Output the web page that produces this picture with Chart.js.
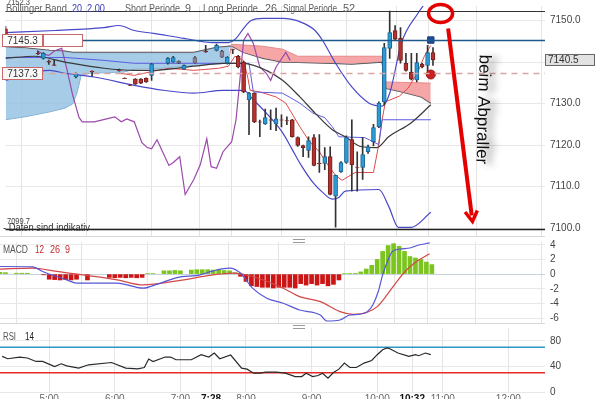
<!DOCTYPE html>
<html>
<head>
<meta charset="UTF-8" />
<title>Intraday Chart</title>
<script src="https://cdn.jsdelivr.net/npm/chart.js"></script>
<style>
  html, body { margin: 0; padding: 0; background: #fff; }
  #wrap { position: relative; width: 600px; height: 399px; overflow: hidden; }
  #wrap canvas { position: absolute; left: 0; }
  .sep { position: absolute; left: 0; width: 545px; height: 0; border-top: 1px solid #d8d8d8; }
  .grip { position: absolute; left: 293px; width: 12px; height: 2px; border-top: 1px solid #9a9a9a; border-bottom: 1px solid #9a9a9a; }
</style>
</head>
<body>
<div id="wrap">
  <canvas id="mainChart" width="600" height="242" style="top:0"></canvas>
  <canvas id="macdChart" width="600" height="93" style="top:236px"></canvas>
  <canvas id="rsiChart" width="600" height="77" style="top:322px"></canvas>
  <div class="sep" style="top:236px"></div>
  <div class="grip" style="top:239px"></div>
  <div class="sep" style="top:323px"></div>
  <div class="grip" style="top:325px"></div>
</div>

<script>
// Zeiten in Minuten seit Mitternacht
const xMin = 255, xMax = 753.5;
const timeTicks = [300, 360, 420, 448, 480, 540, 600, 632, 660, 720];
const boldTimes = [448, 632];
const priceTicks = [7100, 7110, 7120, 7130, 7140, 7150];
const macdTicks = [-6, -4, -2, 0, 2, 4];
const rsiTicks = [0, 40, 80];

// 5-Minuten-Kerzen
const candleTimes = [255, 285, 290, 295, 300, 320, 335, 360, 365, 370, 375, 380, 385, 390, 405, 410, 415, 420, 430, 440,
  450, 455, 460, 465, 470, 475, 480, 485, 490, 495, 500, 505, 510, 515, 520, 525, 530, 535, 540, 545,
  550, 555, 560, 565, 570, 575, 580, 585, 590, 595, 600, 605, 610, 615, 620, 625, 630, 635, 640, 645, 650];
const candleOpen = [7148.0, 7142.1, 7140.9, 7140.2, 7139.3, 7136.4, 7137.8, 7138.0, 7136.1, 7134.5, 7135.9, 7135.9, 7136.1, 7136.8, 7139.7, 7140.0, 7140.2, 7138.3, 7141.1, 7142.6,
  7142.8, 7142.6, 7139.7, 7143.0, 7141.4, 7140.0, 7130.9, 7132.5, 7125.6, 7125.1, 7126.1, 7125.1, 7126.1, 7125.9, 7126.1, 7121.8, 7119.9, 7118.7, 7121.8, 7115.6,
  7115.6, 7117.2, 7107.7, 7113.6, 7115.8, 7121.3, 7114.7, 7114.6, 7118.4, 7120.8, 7124.4, 7130.4, 7143.3, 7147.6, 7145.7, 7139.7, 7137.6, 7135.7, 7139.5, 7139.2, 7142.3];
const candleHigh = [7148.6, 7142.6, 7142.3, 7140.5, 7140.4, 7137.4, 7137.9, 7138.3, 7136.2, 7134.6, 7136.0, 7136.0, 7136.2, 7139.7, 7141.1, 7141.4, 7140.3, 7139.3, 7141.3, 7144.0,
  7144.3, 7142.8, 7141.3, 7143.1, 7141.6, 7140.2, 7132.7, 7132.6, 7126.0, 7128.7, 7128.5, 7128.9, 7127.3, 7126.8, 7126.2, 7122.0, 7120.0, 7122.0, 7122.5, 7122.5,
  7119.4, 7119.6, 7112.8, 7116.0, 7122.2, 7126.1, 7118.4, 7121.8, 7120.0, 7125.0, 7130.4, 7144.5, 7152.3, 7148.8, 7148.3, 7142.1, 7142.1, 7142.1, 7139.7, 7144.0, 7143.5];
const candleLow = [7146.2, 7141.8, 7140.7, 7139.4, 7139.2, 7136.2, 7136.6, 7137.8, 7136.0, 7134.3, 7134.6, 7134.8, 7135.1, 7135.6, 7139.5, 7139.9, 7139.6, 7138.2, 7139.7, 7142.3,
  7142.7, 7141.1, 7139.5, 7142.0, 7138.6, 7132.6, 7122.5, 7125.4, 7122.0, 7125.0, 7123.7, 7123.5, 7124.4, 7124.9, 7121.9, 7119.7, 7117.2, 7117.0, 7115.0, 7113.4,
  7114.1, 7108.0, 7100.2, 7113.4, 7115.6, 7108.9, 7108.9, 7111.7, 7118.0, 7119.8, 7124.2, 7129.7, 7140.9, 7145.3, 7139.7, 7137.8, 7135.7, 7135.2, 7138.6, 7137.6, 7139.2];
const candleClose = [7146.4, 7142.0, 7142.1, 7140.0, 7139.2, 7137.2, 7137.7, 7137.9, 7136.0, 7134.4, 7134.7, 7134.9, 7135.2, 7139.5, 7140.9, 7141.1, 7139.7, 7139.2, 7139.8, 7142.5,
  7144.0, 7141.2, 7141.2, 7142.9, 7138.8, 7132.8, 7132.5, 7125.6, 7125.5, 7126.6, 7126.0, 7126.3, 7126.0, 7125.8, 7122.0, 7119.9, 7119.4, 7121.1, 7115.1, 7115.5,
  7117.2, 7108.1, 7112.7, 7115.8, 7121.8, 7115.3, 7114.6, 7117.7, 7119.6, 7124.2, 7130.1, 7143.5, 7147.1, 7145.5, 7140.4, 7138.0, 7135.9, 7139.9, 7138.8, 7142.3, 7140.5];
const grayCandles = [415, 430, 455];

// Bollinger Band 20 / 2.00
const bbUpperT = [255, 301, 346, 360, 374, 392, 420, 447, 461, 468, 475, 482, 493, 511, 529, 541, 548, 560, 575, 591, 603, 610, 621, 636, 643];
const bbUpperV = [7147.1, 7147.6, 7148.3, 7148.8, 7147.6, 7146.9, 7145.7, 7144.7, 7144.7, 7145.7, 7148.1, 7150.0, 7150.5, 7150.5, 7149.5, 7147.6, 7145.2, 7139.7, 7134.0, 7130.1, 7129.4, 7132.5, 7144.7, 7151.7, 7154.3];
const bbLowerT = [255, 296, 310, 337, 374, 401, 429, 456, 475, 484, 496, 511, 520, 529, 539, 548, 557, 563, 569, 600, 609, 618, 630, 648];
const bbLowerV = [7135.6, 7138.0, 7137.3, 7136.4, 7134.4, 7133.2, 7132.5, 7133.2, 7133.2, 7130.9, 7127.7, 7123.0, 7118.9, 7114.8, 7111.0, 7108.6, 7107.0, 7107.4, 7108.9, 7109.3, 7105.3, 7100.2, 7100.2, 7103.8];
const bbMidT = [255, 282, 310, 346, 374, 392, 429, 456, 475, 496, 511, 527, 541, 557, 569, 584, 598, 609, 630, 648];
const bbMidV = [7140.9, 7141.4, 7140.0, 7138.5, 7138.0, 7138.0, 7139.0, 7139.7, 7139.7, 7138.0, 7135.6, 7131.6, 7127.7, 7123.7, 7122.0, 7119.6, 7119.4, 7122.0, 7125.4, 7129.7];

// Ichimoku 9 / 26 / 52
const kijunT = [255, 310, 346, 374, 429, 480, 484, 511, 527, 539, 550, 557, 563, 587, 600, 603, 648];
const kijunV = [7141.1, 7141.1, 7140.4, 7139.7, 7139.7, 7139.7, 7132.8, 7132.5, 7130.1, 7127.7, 7126.6, 7124.4, 7122.0, 7121.8, 7120.1, 7126.1, 7126.1];
const tenkanT = [360, 374, 392, 406, 429, 452, 461, 467, 475, 479, 481, 490, 505, 514, 527, 536, 545, 554, 560, 566, 578, 595, 599, 603, 606, 619, 627, 636, 642, 648];
const tenkanV = [7137.3, 7136.8, 7137.8, 7138.5, 7138.0, 7138.5, 7139.0, 7141.4, 7140.4, 7136.1, 7133.2, 7132.8, 7131.6, 7130.1, 7124.4, 7120.8, 7118.4, 7114.8, 7112.7, 7111.5, 7113.4, 7113.4, 7118.9, 7126.1, 7130.4, 7131.8, 7133.7, 7137.6, 7141.4, 7144.0];
const chikouT = [284, 290, 295, 301, 307, 312, 317, 323, 326, 337, 356, 362, 367, 374, 381, 386, 390, 395, 406, 410, 416, 421, 429, 435, 441, 445, 450, 456, 464, 468, 472, 475, 479, 484, 490, 496, 500, 505, 514, 518];
const chikouV = [7142.8, 7141.9, 7141.6, 7142.8, 7143.3, 7138.0, 7132.1, 7126.6, 7125.6, 7125.6, 7126.8, 7125.6, 7126.3, 7125.6, 7120.6, 7119.4, 7119.1, 7121.3, 7115.1, 7115.8, 7117.2, 7108.1, 7111.7, 7115.3, 7121.5, 7114.8, 7114.4, 7118.4, 7120.8, 7126.1, 7136.8, 7145.2, 7146.9, 7144.5, 7138.8, 7137.3, 7135.6, 7138.8, 7142.3, 7140.4];
const cloudT = [255, 273, 296, 310, 317, 321, 325, 333, 346, 365, 374, 392, 401, 429, 450, 458, 462, 464, 475, 493, 511, 525, 557, 575, 603, 606, 621, 639, 648];
const spanAV = [7126.1, 7126.8, 7128.0, 7128.9, 7129.9, 7132.5, 7136.8, 7137.3, 7137.4, 7137.6, 7138.3, 7138.4, 7138.5, 7139.2, 7139.5, 7139.7, 7141.5, 7144.3, 7144.1, 7143.8, 7143.1, 7141.4, 7141.4, 7141.4, 7141.4, 7135.2, 7135.1, 7135.0, 7134.9];
const spanBV = [7143.6, 7143.4, 7142.8, 7142.6, 7142.3, 7142.3, 7142.3, 7142.3, 7142.3, 7142.3, 7142.3, 7142.3, 7142.3, 7142.3, 7143.5, 7143.7, 7143.8, 7143.8, 7142.3, 7140.9, 7140.0, 7139.9, 7139.7, 7139.5, 7140.0, 7133.7, 7132.8, 7131.6, 7130.1];

// Markierungen und Linien
const markerT = [648, 648];
const markerV = [7145.3, 7137.0];
const dayHigh = 7152.3, dayLow = 7099.7, lineBlue = 7145.3, lineDashed = 7137.3, lastPrice = 7140.5;

// MACD 12 26 9
const histT = [255, 260, 270, 275, 280, 295, 300, 305, 310, 315, 320, 325, 335, 355, 360, 365, 370, 375, 380, 385, 390, 395,
  405, 410, 415, 420, 430, 435, 440, 445, 450, 455, 460, 465, 470,
  475, 480, 485, 490, 495, 500, 505, 510, 515, 520, 525, 530, 535, 540, 545, 550, 555, 560, 565,
  570, 575, 580, 585, 590, 595, 600, 605, 610, 615, 620, 625, 630, 635, 640, 645, 650];
const histV = [0.25, 0.2, 0.12, 0.12, 0.12, -0.1, -0.7, -0.75, -0.8, -0.75, -0.8, -0.7, -0.8, -0.45, -0.5, -0.45, -0.5, -0.45, -0.5, -0.45, 0.05, 0.05,
  0.45, 0.45, 0.5, 0.45, 0.55, 0.6, 0.6, 0.6, 0.55, 0.6, 0.5, 0.45, 0.2,
  -0.3, -1.0, -1.6, -1.7, -1.8, -1.8, -1.9, -1.8, -1.8, -1.8, -1.9, -1.3, -1.5, -1.3, -1.5, -1.3, -1.6, -1.4, -0.8,
  0.05, 0.05, 0.1, 0.3, 0.7, 1.2, 2.0, 3.1, 3.9, 4.15, 3.8, 3.1, 2.4, 2.2, 2.0, 1.65, 1.3];
const macdT = [255, 285, 294, 316, 325, 362, 386, 399, 417, 438, 450, 465, 475, 486, 499, 514, 529, 548, 554, 566, 575, 584, 591, 596, 601, 605, 610, 614, 621, 630, 639, 648];
const macdV = [1.04, 1.0, 0.36, -0.78, -1.23, -1.23, -1.92, -1.37, -0.47, -0.1, 0.45, 0.82, 0.14, -1.92, -3.29, -3.97, -4.89, -5.58, -6.4, -6.26, -5.58, -5.48, -5.12, -4.21, -2.38, -0.1, 1.96, 3.1, 3.42, 3.56, 4.01, 4.25];
const signalT = [255, 285, 307, 362, 386, 417, 450, 468, 486, 514, 529, 548, 566, 578, 591, 600, 609, 618, 627, 636, 648];
const signalV = [0.68, 0.82, 0.36, -0.78, -1.47, -0.92, -0.1, 0.14, -0.33, -1.92, -3.07, -3.75, -5.12, -5.48, -5.21, -4.44, -2.84, -1.01, 0.59, 1.73, 2.78];

// RSI 14
const rsiT = [257, 262, 273, 280, 288, 294, 305, 311, 316, 327, 336, 357, 370, 381, 387, 391, 395, 406, 411, 416, 430, 439, 446, 451, 456, 466,
  476, 481, 487, 493, 498, 508, 516, 525, 531, 535, 541, 546, 550, 555, 560, 565, 570, 575, 581, 588, 595, 600, 605, 609, 612, 619, 629, 635, 638, 644, 649];
const rsiV = [55.6, 52, 54.6, 53.1, 47.7, 47.7, 39.8, 44.1, 40.9, 37.3, 42.5, 46.1, 37.3, 36.2, 38.3, 51.5, 47.7, 54.6, 54.6, 50.4, 50.4, 58.3, 54.6, 60.9, 52, 57.8,
  37.3, 35.7, 29.4, 29.4, 31.0, 31.0, 29.4, 24.1, 24.1, 29.4, 24.1, 25.7, 29.4, 21.6, 30.4, 35.7, 45.2, 38.3, 38.3, 45.2, 49.3, 58.3, 66.1, 68.8, 67.2, 60.9, 55.6, 58.3, 56.7, 60.9, 58.3];
const rsiLevels = [70, 30];
const rsiLevelColors = ['#2f95c4', '#e82a2a'];

Chart.defaults.font.family = "'Liberation Sans', Arial, sans-serif";
Chart.defaults.font.size = 10;
Chart.defaults.color = '#444';

const FONT = '"Liberation Sans", Arial, sans-serif';
function pts(ts, vs) { return ts.map((t, i) => ({ x: t, y: vs[i] })); }
function fmtTime(v) { return Math.floor(v / 60) + ':' + String(v % 60).padStart(2, '0'); }
function line(data, color, width, extra) {
  return Object.assign({ type: 'line', data, borderColor: color, borderWidth: width, pointRadius: 0, tension: 0, fill: false, order: 3 }, extra || {});
}
function candleColor(i) {
  if (grayCandles.includes(candleTimes[i])) return ['#8d8299', '#6a6072'];
  return candleClose[i] >= candleOpen[i] ? ['#2b9ad6', '#1c6796'] : ['#b4312e', '#76201e'];
}
// Text horizontal auf eine Breite stauchen (die Originalschrift ist schmaler)
function fitText(ctx, txt, x, y, w, color) {
  const m = ctx.measureText(txt).width;
  ctx.save();
  ctx.translate(x, y); ctx.scale(Math.min(1, w / m), 1);
  ctx.fillStyle = color; ctx.textAlign = 'left'; ctx.textBaseline = 'middle';
  ctx.fillText(txt, 0, 0);
  ctx.restore();
}

const xGrid = {
  type: 'linear', min: xMin, max: xMax, offset: false,
  afterBuildTicks: s => { s.ticks = timeTicks.map(v => ({ value: v })); },
  ticks: { display: false },
  grid: { color: '#e4e4e4', drawTicks: false },
  border: { display: false },
  afterFit: s => { s.height = 0; }
};
function yAxis(min, max, ticks, fmt, gridColor) {
  return {
    position: 'right', min, max,
    afterBuildTicks: s => { s.ticks = ticks.map(v => ({ value: v })); },
    ticks: { callback: fmt, padding: 0, color: '#444', font: { size: 10 } },
    grid: { color: gridColor || '#e8e8e8', drawTicks: true, tickLength: 5, tickColor: 'rgba(0,0,0,0)' },
    border: { display: false },
    afterFit: s => { s.width = 55; }
  };
}

// Beschriftung, Linien und Pfeil im Kurs-Panel
const mainDeco = {
  id: 'mainDeco',
  afterDatasetsDraw(chart) {
    const { ctx, chartArea: a, scales: { x, y } } = chart;
    ctx.save();
    const hline = (v, color, w, dash) => {
      const py = Math.round(y.getPixelForValue(v)) + 0.5;
      ctx.beginPath(); ctx.setLineDash(dash || []); ctx.strokeStyle = color; ctx.lineWidth = w;
      ctx.moveTo(a.left, py); ctx.lineTo(a.right, py); ctx.stroke();
      return py;
    };
    hline(dayHigh, '#333', 1);
    const yDash = hline(lineDashed, '#d8a4a4', 1.3, [6, 5]);
    const yBlue = hline(lineBlue, '#1f5a8c', 1.5);
    const yLow = hline(dayLow, '#222', 1.3);
    ctx.setLineDash([]);

    // Kästchen links
    ctx.font = '10px ' + FONT;
    const box = (bx, by, w, txt, fill) => {
      ctx.fillStyle = fill; ctx.fillRect(bx, by - 6.5, w, 13);
      ctx.strokeStyle = '#c86868'; ctx.lineWidth = 1; ctx.strokeRect(bx + 0.5, by - 6, w - 1, 12);
      if (txt) { ctx.fillStyle = '#333'; ctx.textBaseline = 'middle'; ctx.textAlign = 'center'; ctx.fillText(txt, bx + w / 2, by + 0.5); }
    };
    box(2, yBlue, 41, lineBlue.toFixed(1), '#fff');
    box(43, yBlue, 40, '', '#fff');
    box(2, yDash, 41, lineDashed.toFixed(1), '#f8f8f8');

    // Kursbox rechts
    const yp = y.getPixelForValue(lastPrice);
    ctx.fillStyle = '#e2e2e2'; ctx.fillRect(545, yp - 6, 50, 12);
    ctx.strokeStyle = '#666'; ctx.strokeRect(545.5, yp - 5.5, 49, 11);
    ctx.fillStyle = '#333'; ctx.textAlign = 'left'; ctx.textBaseline = 'middle';
    ctx.fillText(lastPrice.toFixed(1), 548, yp + 0.5);

    // Texte
    ctx.font = '9px ' + FONT;
    fitText(ctx, dayHigh.toFixed(1), 7, 3, 23, '#444');
    fitText(ctx, dayLow.toFixed(1), 7, yLow - 8, 23, '#444');
    ctx.font = '11px ' + FONT;
    const gray = '#5e5e5e', blue = '#3b3bb5';
    fitText(ctx, 'Bollinger Band', 6, 9, 61, gray);
    fitText(ctx, '20', 72, 9, 10, blue);
    fitText(ctx, '2.00', 87, 9, 18, blue);
    fitText(ctx, 'Short Periode', 125, 9, 55, gray);
    fitText(ctx, '9', 185, 9, 6, gray);
    fitText(ctx, 'Long Periode', 203, 9, 55, gray);
    fitText(ctx, '26', 265, 9, 12, gray);
    fitText(ctx, 'Signal Periode', 283, 9, 54, gray);
    fitText(ctx, '52', 343, 9, 13, gray);
    fitText(ctx, '- Daten sind indikativ', 3, yLow - 1.5, 87, '#333');

    // Kreis + Pfeil + Text
    const cx = x.getPixelForValue(657), cy = y.getPixelForValue(7151.7);
    ctx.strokeStyle = '#e40000'; ctx.lineWidth = 3.5;
    ctx.beginPath(); ctx.ellipse(cx, cy, 12, 9, 0, 0, Math.PI * 2); ctx.stroke();
    const x1 = x.getPixelForValue(664), y1 = y.getPixelForValue(7148.1);
    const x2 = x.getPixelForValue(686.5), y2 = y.getPixelForValue(7101.6);
    const ang = Math.atan2(y2 - y1, x2 - x1);
    ctx.lineWidth = 4; ctx.lineCap = 'butt';
    ctx.beginPath(); ctx.moveTo(x1, y1); ctx.lineTo(x2 - Math.cos(ang) * 6, y2 - Math.sin(ang) * 6); ctx.stroke();
    ctx.lineWidth = 3.5; ctx.lineJoin = 'miter';
    ctx.beginPath();
    ctx.moveTo(x2 + Math.cos(ang - 2.6) * 12, y2 + Math.sin(ang - 2.6) * 12);
    ctx.lineTo(x2, y2);
    ctx.lineTo(x2 + Math.cos(ang + 2.6) * 12, y2 + Math.sin(ang + 2.6) * 12);
    ctx.stroke();

    const tx = x.getPixelForValue(696), ty = y.getPixelForValue(7128.6);
    ctx.save();
    ctx.translate(tx, ty); ctx.rotate(Math.PI / 2 + 0.03);
    ctx.font = '17px ' + FONT;
    ctx.textAlign = 'center'; ctx.textBaseline = 'middle';
    ctx.shadowColor = 'rgba(0,0,0,0.45)'; ctx.shadowBlur = 7; ctx.shadowOffsetX = 7; ctx.shadowOffsetY = 2;
    ctx.fillStyle = '#111';
    ctx.fillText('beim Abpraller', 0, 0);
    ctx.restore();
    ctx.restore();
  }
};

new Chart(document.getElementById('mainChart'), {
  type: 'bar',
  data: {
    datasets: [
      line(pts(cloudT, spanAV), '#8ab6da', 1, {
        order: 5,
        fill: { target: '+1', above: 'rgba(244,150,150,0.85)', below: 'rgba(150,195,228,0.85)' },
        segment: { borderColor: c => c.p0.parsed.x >= 462 ? '#e58a8a' : '#88b4d8' }
      }),
      line(pts(cloudT, spanBV), '#4a4a4a', 1.3, { order: 5 }),
      line(pts(bbUpperT, bbUpperV), '#4848c8', 1.2, { cubicInterpolationMode: 'monotone' }),
      line(pts(bbLowerT, bbLowerV), '#4848c8', 1.2, { cubicInterpolationMode: 'monotone' }),
      line(pts(bbMidT, bbMidV), '#3a3a3a', 1.2, { cubicInterpolationMode: 'monotone' }),
      line(pts(kijunT, kijunV), '#5c5ce0', 1),
      line(pts(tenkanT, tenkanV), '#e04a4a', 1),
      line(pts(chikouT, chikouV), '#9b48ab', 1.2, { order: 4 }),
      {
        type: 'bar', order: 1, grouped: false, barThickness: 1,
        data: candleTimes.map((t, i) => ({ x: t, y: [candleLow[i], candleHigh[i]] })),
        backgroundColor: '#333', borderWidth: 0
      },
      {
        type: 'bar', order: 0, grouped: false, barThickness: 4,
        data: candleTimes.map((t, i) => ({ x: t, y: [candleOpen[i], candleClose[i]] })),
        backgroundColor: candleTimes.map((t, i) => candleColor(i)[0]),
        borderColor: candleTimes.map((t, i) => candleColor(i)[1]),
        borderWidth: 1, borderSkipped: false
      },
      {
        type: 'line', order: 0, showLine: false,
        data: pts(markerT, markerV),
        pointStyle: ['rect', 'circle'], pointRadius: 4.5,
        pointBackgroundColor: ['#1d4f9c', '#c82020'], pointBorderColor: ['#163d78', '#a01818']
      }
    ]
  },
  options: {
    responsive: false, animation: false, devicePixelRatio: 1,
    layout: { padding: { top: 6, bottom: 6, left: 0, right: 0 } },
    plugins: { legend: { display: false }, tooltip: { enabled: false } },
    scales: {
      x: xGrid,
      y: yAxis(7098.1, 7153.5, priceTicks, v => v.toFixed(1))
    }
  },
  plugins: [mainDeco]
});

// MACD
const macdDeco = {
  id: 'macdDeco',
  afterDraw(chart) {
    const ctx = chart.ctx;
    ctx.save();
    ctx.font = '11px ' + FONT;
    fitText(ctx, 'MACD', 3, 14, 25, '#555');
    fitText(ctx, '12', 35, 14, 9, '#c42a2a');
    fitText(ctx, '26', 50, 14, 10, '#c42a2a');
    fitText(ctx, '9', 65, 14, 5, '#c42a2a');
    ctx.restore();
  }
};
new Chart(document.getElementById('macdChart'), {
  type: 'bar',
  data: {
    datasets: [
      line(pts(macdT, macdV), '#5656d6', 1.2, { order: 0, cubicInterpolationMode: 'monotone' }),
      line(pts(signalT, signalV), '#d44848', 1.2, { order: 0, cubicInterpolationMode: 'monotone' }),
      {
        type: 'bar', order: 1, grouped: false, barThickness: 4,
        data: pts(histT, histV),
        backgroundColor: histV.map(v => v >= 0 ? '#7cc520' : '#cc1515'),
        borderWidth: 0
      }
    ]
  },
  options: {
    responsive: false, animation: false, devicePixelRatio: 1,
    layout: { padding: { top: 6, bottom: 6 } },
    plugins: { legend: { display: false }, tooltip: { enabled: false } },
    scales: {
      x: xGrid,
      y: yAxis(-6.67, 4.38, macdTicks, v => String(v), c => c.tick && c.tick.value === 0 ? '#c6d2dc' : '#e8e8e8')
    }
  },
  plugins: [macdDeco]
});

// RSI: Niveaulinien 70 / 30 als eigene Datensätze über die volle Breite
const rsiLevelSets = rsiLevels.map((lv, i) =>
  line([{ x: xMin, y: lv }, { x: xMax, y: lv }], rsiLevelColors[i], 1.4, { order: 5 }));

const rsiDeco = {
  id: 'rsiDeco',
  afterDraw(chart) {
    const ctx = chart.ctx;
    ctx.save();
    ctx.font = '11px ' + FONT;
    fitText(ctx, 'RSI', 3, 15, 13, '#555');
    fitText(ctx, '14', 25, 15, 9, '#222');
    ctx.restore();
  }
};
const isBold = c => !!(c && c.tick && boldTimes.includes(c.tick.value));
new Chart(document.getElementById('rsiChart'), {
  type: 'line',
  data: {
    datasets: [line(pts(rsiT, rsiV), '#2a2a2a', 1.2, { order: 0 })].concat(rsiLevelSets)
  },
  options: {
    responsive: false, animation: false, devicePixelRatio: 1,
    layout: { padding: { top: 6, bottom: 0 } },
    plugins: { legend: { display: false }, tooltip: { enabled: false } },
    scales: {
      x: Object.assign({}, xGrid, {
        ticks: {
          display: true, padding: 1, maxRotation: 0, autoSkip: false,
          callback: v => fmtTime(v),
          color: c => isBold(c) ? '#111' : '#666',
          font: c => ({ size: 10, weight: isBold(c) ? 'bold' : 'normal' })
        },
        afterFit: s => { s.height = 7; }
      }),
      y: yAxis(0, 100, rsiTicks, v => String(v))
    }
  },
  plugins: [rsiDeco]
});
</script>
</body>
</html>
